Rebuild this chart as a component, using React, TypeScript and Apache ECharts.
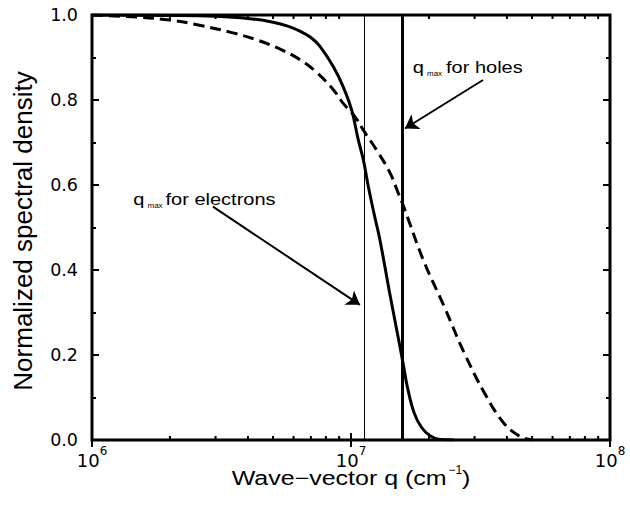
import React, { useEffect, useRef } from 'react';
import * as echarts from 'echarts';

// Solid curve (wave-vector q in cm^-1, normalized spectral density)
const solidQ = [1e6, 2e6, 3e6, 4e6, 5e6, 5.7e6, 6.35e6, 7e6, 7.59e6, 8.55e6, 9.33e6, 1.006e7, 1.067e7, 1.116e7, 1.167e7, 1.23e7, 1.294e7, 1.41e7, 1.545e7, 1.6e7, 1.65e7, 1.75e7, 1.87e7, 2.02e7, 2.2e7, 2.5e7];
const solidS = [1.0, 0.999, 0.997, 0.992, 0.983, 0.974, 0.962, 0.947, 0.926, 0.878, 0.831, 0.776, 0.706, 0.659, 0.596, 0.53, 0.47, 0.346, 0.22, 0.17, 0.125, 0.065, 0.03, 0.01, 0.001, 0.0];

// Dashed curve
const dashedQ = [1e6, 1.5e6, 2e6, 2.6e6, 3.5e6, 4.4e6, 5.4e6, 6.35e6, 7.37e6, 8.55e6, 9.33e6, 1.035e7, 1.116e7, 1.256e7, 1.416e7, 1.524e7, 1.6e7, 1.9e7, 2.29e7, 2.74e7, 3.28e7, 3.9e7, 4.5e7, 5e7];
const dashedS = [1.0, 0.995, 0.988, 0.976, 0.958, 0.94, 0.918, 0.895, 0.865, 0.824, 0.792, 0.761, 0.729, 0.682, 0.628, 0.58, 0.548, 0.424, 0.314, 0.204, 0.11, 0.039, 0.008, 0.0];

// q_max markers
const qmaxElectrons = 1.122e7;
const qmaxHoles = 1.584e7;

// Arrows: [tail, head] in data coordinates
const arrowElectrons = [[2.93e6, 0.549], [1.083e7, 0.318]];
const arrowHoles = [[3.234e7, 0.847], [1.616e7, 0.733]];

// Minor ticks of the log axis
const minorTicks = [2e6, 3e6, 4e6, 5e6, 6e6, 7e6, 8e6, 9e6, 2e7, 3e7, 4e7, 5e7, 6e7, 7e7, 8e7, 9e7];

const FONT = 'Liberation Sans';
const TICKFONT = 'DejaVu Sans';

export default function App() {
  const ref = useRef<HTMLDivElement>(null);
  useEffect(() => {
    if (!ref.current) return;
    const chart = echarts.init(ref.current, undefined, { renderer: 'svg' });
    const zip = (a: number[], b: number[]) => a.map((v, i) => [v, b[i]]);
    const tickStyle = { color: '#000', width: 2 };
    const baseX = {
      type: 'log',
      logBase: 10,
      min: 1e6,
      max: 1e8,
      axisLine: { show: false },
      axisTick: { inside: true, length: 7, lineStyle: tickStyle },
      splitLine: { show: false },
    };
    const baseY = {
      type: 'value',
      min: 0,
      max: 1,
      interval: 0.2,
      axisLine: { show: false },
      axisTick: { inside: true, length: 7, lineStyle: tickStyle },
      minorTick: { show: true, splitNumber: 2, length: 4, lineStyle: tickStyle },
      splitLine: { show: false },
      minorSplitLine: { show: false },
    };
    const txt = (text: string, x: number, y: number, fontSize: number, scaleX: number) => ({
      type: 'text',
      x,
      y,
      scaleX,
      silent: true,
      style: { text, fontSize, fontFamily: FONT, fill: '#000', align: 'left', verticalAlign: 'middle' },
    });
    const option: any = {
      animation: false,
      grid: { left: 92, right: 20, top: 15, bottom: 66, show: true, borderColor: '#000', borderWidth: 3, backgroundColor: 'transparent' },
      xAxis: [
        {
          ...baseX,
          position: 'bottom',
          axisLabel: {
            margin: 5,
            formatter: (v: number) => `{b|10}{s|${Math.round(Math.log10(v))}}`,
            rich: {
              b: { fontSize: 18, fontFamily: TICKFONT, color: '#000', lineHeight: 30 },
              s: { fontSize: 12, fontFamily: TICKFONT, color: '#000', verticalAlign: 'top', lineHeight: 14 },
            },
          },
        },
        { ...baseX, position: 'top', axisLabel: { show: false } },
      ],
      yAxis: [
        {
          ...baseY,
          position: 'left',
          axisLabel: { margin: 14, fontSize: 17.5, fontFamily: TICKFONT, color: '#000', formatter: (v: number) => v.toFixed(1) },
        },
        { ...baseY, position: 'right', axisLabel: { show: false } },
      ],
      series: [
        {
          type: 'line',
          data: zip(solidQ, solidS),
          symbol: 'none',
          smooth: 0.4,
          lineStyle: { color: '#000', width: 3 },
          markLine: {
            silent: true,
            symbol: 'none',
            label: { show: false },
            data: [
              { xAxis: qmaxElectrons, lineStyle: { color: '#000', width: 1, type: 'solid' } },
              { xAxis: qmaxHoles, lineStyle: { color: '#000', width: 3, type: 'solid' } },
            ],
          },
        },
        {
          type: 'line',
          data: zip(dashedQ, dashedS),
          symbol: 'none',
          smooth: 0.4,
          lineStyle: { color: '#000', width: 3, type: [11, 6] },
          markLine: {
            silent: true,
            symbol: ['none', 'arrow'],
            symbolSize: 13,
            label: { show: false },
            lineStyle: { color: '#000', width: 2, type: 'solid' },
            data: [
              [{ coord: arrowElectrons[0] }, { coord: arrowElectrons[1] }],
              [{ coord: arrowHoles[0] }, { coord: arrowHoles[1] }],
            ],
          },
        },
        {
          type: 'custom',
          silent: true,
          data: minorTicks.map((v) => [v, 0]),
          renderItem: (_p: any, api: any) => {
            const v = api.value(0);
            const b = api.coord([v, 0]);
            const t = api.coord([v, 1]);
            const st = { stroke: '#000', lineWidth: 2 };
            return {
              type: 'group',
              children: [
                { type: 'line', shape: { x1: b[0], y1: b[1], x2: b[0], y2: b[1] - 4 }, style: st },
                { type: 'line', shape: { x1: t[0], y1: t[1], x2: t[0], y2: t[1] + 4 }, style: st },
              ],
            };
          },
        },
      ],
      graphic: [
        txt('q', 412.7, 67.7, 16, 1.25),
        txt('max', 427, 73, 8, 1.0),
        txt('for holes', 446, 67.7, 16, 1.25),
        txt('q', 133.3, 199.5, 16, 1.25),
        txt('max', 147.5, 205, 8, 1.0),
        txt('for electrons', 165.5, 199.5, 16, 1.25),
        txt('Wave\u2212vector q (cm', 231.7, 478, 20, 1.25),
        txt('\u22121', 448.5, 470, 12, 1.0),
        txt(')', 462, 478, 20, 1.25),
        {
          type: 'text',
          x: 23,
          y: 231,
          rotation: Math.PI / 2,
          scaleX: 1.04,
          silent: true,
          style: { text: 'Normalized spectral density', fontSize: 25, fontFamily: FONT, fill: '#000', align: 'center', verticalAlign: 'middle' },
        },
      ],
    };
    chart.setOption(option);
    return () => chart.dispose();
  }, []);
  return <div ref={ref} style={{ position: 'fixed', left: 0, top: 0, width: 630, height: 506, background: '#fff' }} />;
}
